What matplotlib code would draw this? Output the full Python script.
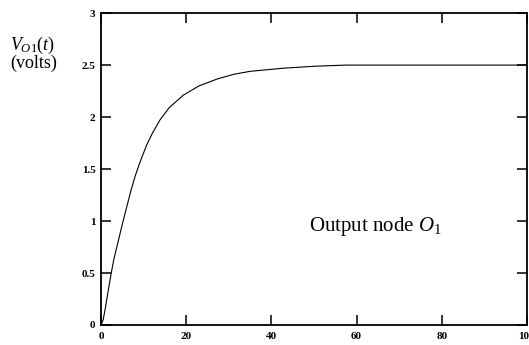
import matplotlib.pyplot as plt

# time axis and output voltage
t = [0, 0.5, 1, 1.6, 2.4, 3, 4, 5, 6, 7, 8, 9, 10.7, 12, 13.8, 16, 19.3,
     23, 27.2, 31, 35, 42.8, 50.6, 57.7, 70, 85, 100]
v = [0, 0.05, 0.16, 0.31, 0.5, 0.63, 0.8, 0.97, 1.13, 1.29, 1.43, 1.55,
     1.73, 1.84, 1.97, 2.09, 2.21, 2.30, 2.365, 2.41, 2.44, 2.47, 2.49,
     2.50, 2.50, 2.50, 2.50]

xticks = [0, 20, 40, 60, 80, 100]
yticks = [0, 0.5, 1, 1.5, 2, 2.5, 3]
ytick_labels = ['0', '0.5', '1', '1.5', '2', '2.5', '3']

plt.rcParams['font.family'] = ['Liberation Serif', 'DejaVu Serif']
plt.rcParams['mathtext.fontset'] = 'custom'
plt.rcParams['mathtext.rm'] = 'Liberation Serif'
plt.rcParams['mathtext.it'] = 'Liberation Serif:italic'

fig = plt.figure(figsize=(5.29, 3.45), dpi=100)
ax = fig.add_axes([0.191, 0.058, 0.805, 0.904])
ax.plot(t, v, color='black', lw=0.8)

ax.set_xlim(0, 100)
ax.set_ylim(0, 3)
ax.set_xticks(xticks)
ax.set_xticklabels([str(x) for x in xticks], fontweight='bold', fontsize=8)
ax.set_yticks(yticks)
ax.set_yticklabels(ytick_labels, fontweight='bold', fontsize=8)
ax.tick_params(direction='in', length=7, width=1.1, top=True, right=True)
ax.tick_params(axis='x', pad=5)
ax.tick_params(axis='y', pad=4)
for s in ax.spines.values():
    s.set_linewidth(1.3)

# label at upper left, outside the axes
fig.text(0.061, 0.869, r'$V_{O1}(t)$', fontsize=13, ha='center', va='center')
fig.text(0.063, 0.815, '(volts)', fontsize=13, ha='center', va='center')

ax.text(0.488, 0.315, r'Output node $O_{1}$', transform=ax.transAxes,
        fontsize=15, ha='left', va='center')

fig.savefig('out.png', dpi=100)
